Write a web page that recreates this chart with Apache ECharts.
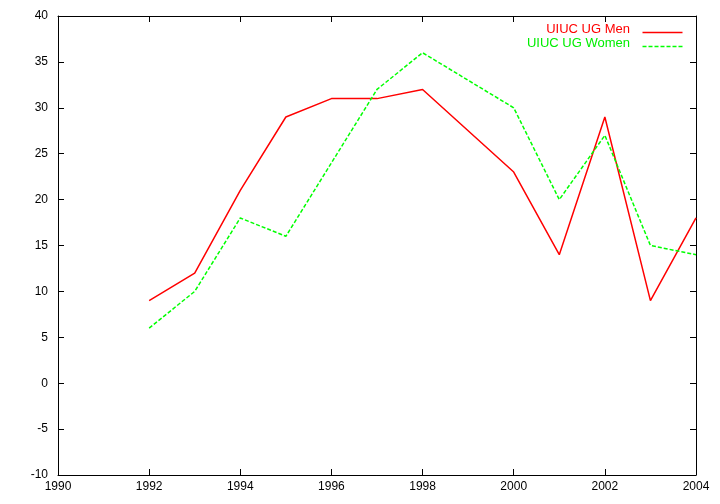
<!DOCTYPE html>
<html><head><meta charset="utf-8">
<script src="https://cdn.jsdelivr.net/npm/echarts@6/dist/echarts.min.js"></script>
<style>html,body{margin:0;padding:0;background:#fff}#c{width:720px;height:504px}</style>
</head><body><div id="c"></div>
<script>
const years = [1992, 1993, 1994, 1995, 1996, 1997, 1998, 2000, 2001, 2002, 2003, 2004];
const men   = [9, 12, 21, 29, 31, 31, 32, 23, 14, 29, 9, 18];
const women = [6, 10, 18, 16, 24, 32, 36, 30, 20, 27, 15, 14];
const seriesNames = ['UIUC UG Men', 'UIUC UG Women'];
const seriesColors = ['#ff0000', '#00ff00'];

const chart = echarts.init(document.getElementById('c'), null, {renderer: 'canvas'});
const ff = 'Liberation Sans, Arial, sans-serif';
const font = {fontFamily: ff, fontSize: 12, color: '#000'};
const axisLine = {show: true, onZero: false, lineStyle: {color: '#000', width: 1}};
const tick = {show: true, inside: true, length: 6, lineStyle: {color: '#000'}};
const legendGraphics = [];
seriesNames.forEach((n, i) => {
  const y = 30 + i * 14;
  legendGraphics.push({type: 'text', right: 90, top: y - 7,
    style: {text: n, fill: i === 0 ? '#ff0000' : '#00ee00', font: '13px ' + ff, textAlign: 'right'}});
  legendGraphics.push({type: 'line', left: 640, top: y,
    shape: {x1: 0, y1: 0, x2: 40, y2: 0},
    style: {stroke: seriesColors[i], lineWidth: 1.5, lineDash: i === 0 ? null : [4, 2]}});
});
chart.setOption({
  animation: false,
  grid: {left: 58, right: 24, top: 16, bottom: 29, containLabel: false},
  graphic: legendGraphics,
  xAxis: [
    {type: 'value', min: 1990, max: 2004, interval: 2, axisLine, axisTick: tick,
     axisLabel: Object.assign({margin: 6, formatter: v => String(v)}, font), splitLine: {show: false}},
    {type: 'value', position: 'top', min: 1990, max: 2004, interval: 2, axisLine, axisTick: tick,
     axisLabel: {show: false}, splitLine: {show: false}}
  ],
  yAxis: [
    {type: 'value', min: -10, max: 40, interval: 5, axisLine, axisTick: tick,
     axisLabel: Object.assign({margin: 10}, font), splitLine: {show: false}},
    {type: 'value', position: 'right', min: -10, max: 40, interval: 5, axisLine, axisTick: tick,
     axisLabel: {show: false}, splitLine: {show: false}}
  ],
  series: [
    {name: seriesNames[0], type: 'line', showSymbol: false, symbol: 'none',
     data: years.map((y, i) => [y, men[i]]),
     lineStyle: {color: seriesColors[0], width: 1.5}, itemStyle: {color: seriesColors[0]}},
    {name: seriesNames[1], type: 'line', showSymbol: false, symbol: 'none',
     data: years.map((y, i) => [y, women[i]]),
     lineStyle: {color: seriesColors[1], width: 1.5, type: [4, 2]}, itemStyle: {color: seriesColors[1]}}
  ]
});
</script></body></html>
